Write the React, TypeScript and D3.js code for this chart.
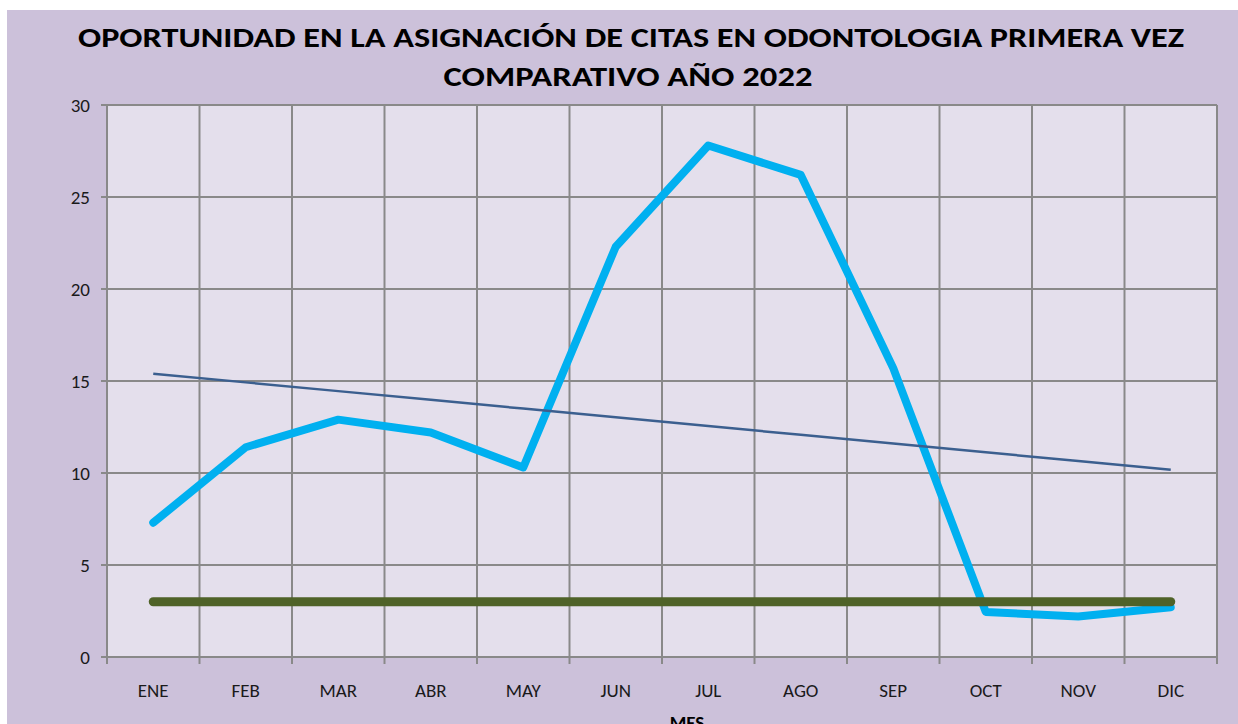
import * as d3 from "d3";
import * as React from "react";

const months = ["ENE", "FEB", "MAR", "ABR", "MAY", "JUN", "JUL", "AGO", "SEP", "OCT", "NOV", "DIC"];
const oportunidad = [7.3, 11.4, 12.9, 12.2, 10.3, 22.3, 27.8, 26.2, 15.7, 2.45, 2.2, 2.7];
const meta = [3, 3, 3, 3, 3, 3, 3, 3, 3, 3, 3, 3];
const yTicks = [0, 5, 10, 15, 20, 25, 30];
const titleLines = [
  "OPORTUNIDAD EN LA ASIGNACIÓN DE CITAS EN ODONTOLOGIA PRIMERA VEZ",
  "COMPARATIVO AÑO 2022",
];
const xTitle = "MES";

const W = 1238,
  H = 724;
const plot = { left: 107, right: 1217, top: 105, bottom: 657 };
const font = "Carlito, Lato, 'Open Sans', sans-serif";

// least squares trend line, like Excel's linear trendline
function linearTrend(values: number[]) {
  const xs = values.map((_, i) => i + 1);
  const mx = d3.mean(xs) as number;
  const my = d3.mean(values) as number;
  const sxy = d3.sum(xs, (x, i) => (x - mx) * (values[i] - my));
  const sxx = d3.sum(xs, (x) => (x - mx) * (x - mx));
  const slope = sxy / sxx;
  return xs.map((x) => my + slope * (x - mx));
}

export default function App() {
  const x = d3
    .scaleBand<string>()
    .domain(months)
    .range([plot.left, plot.right]);
  const y = d3.scaleLinear().domain([0, 30]).range([plot.bottom, plot.top]);
  const cx = (m: string) => (x(m) as number) + x.bandwidth() / 2;

  const line = d3
    .line<number>()
    .x((_, i) => cx(months[i]))
    .y((d) => y(d));

  const trend = linearTrend(oportunidad);
  const boundaries = months.map((m) => x(m) as number).concat([plot.right]);

  return (
    <svg
      width={W}
      height={H}
      style={{ position: "absolute", left: 0, top: 0, display: "block" }}
    >
      <rect x={0} y={0} width={W} height={H} fill="#ffffff" />
      <rect x={7} y={10} width={W - 7} height={H - 10} fill="#ccc1da" />
      <rect
        x={plot.left}
        y={plot.top}
        width={plot.right - plot.left}
        height={plot.bottom - plot.top}
        fill="#e4dfec"
      />

      {/* title */}
      <text
        x={631}
        y={47}
        textAnchor="middle"
        fontFamily={font}
        fontWeight="bold"
        fontSize={28}
        fill="#000"
        textLength={1106}
        lengthAdjust="spacingAndGlyphs"
      >
        {titleLines[0]}
      </text>
      <text
        x={628}
        y={86}
        textAnchor="middle"
        fontFamily={font}
        fontWeight="bold"
        fontSize={28}
        fill="#000"
        textLength={369}
        lengthAdjust="spacingAndGlyphs"
      >
        {titleLines[1]}
      </text>

      {/* grid */}
      <g stroke="#898989" strokeWidth={2}>
        {yTicks.map((t) => (
          <line key={"h" + t} x1={plot.left - 6} x2={plot.right} y1={y(t)} y2={y(t)} />
        ))}
        {boundaries.map((b, i) => (
          <line key={"v" + i} x1={b} x2={b} y1={plot.top} y2={plot.bottom + 7} />
        ))}
      </g>

      {/* axis labels */}
      <g fontFamily={font} fontSize={19} fill="#1a1a1a">
        {yTicks.map((t) => (
          <text key={t} x={90} y={y(t) + 7} textAnchor="end">
            {t}
          </text>
        ))}
        {months.map((m) => (
          <text key={m} x={cx(m)} y={697} textAnchor="middle">
            {m}
          </text>
        ))}
      </g>
      <text
        x={687}
        y={729}
        textAnchor="middle"
        fontFamily={font}
        fontWeight="bold"
        fontSize={19}
        fill="#000"
      >
        {xTitle}
      </text>

      {/* series */}
      <path
        d={line(oportunidad) as string}
        fill="none"
        stroke="#00b0f0"
        strokeWidth={8}
        strokeLinejoin="round"
        strokeLinecap="round"
      />
      <path
        d={line(meta) as string}
        fill="none"
        stroke="#4f6228"
        strokeWidth={9}
        strokeLinecap="round"
      />
      <path
        d={line(trend) as string}
        fill="none"
        stroke="#3b5f8f"
        strokeWidth={2.5}
      />
    </svg>
  );
}
